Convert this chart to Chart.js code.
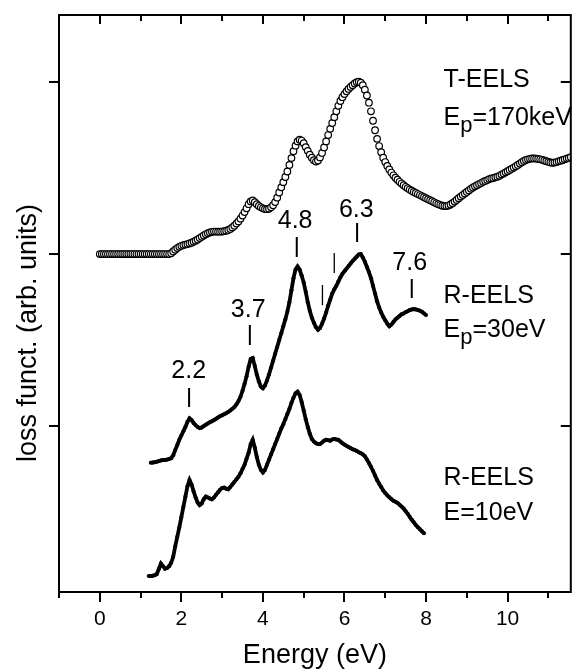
<!DOCTYPE html>
<html>
<head>
<meta charset="utf-8">
<script src="https://cdn.jsdelivr.net/npm/chart.js@4.4.0/dist/chart.umd.min.js"></script>
<style>
  html, body { margin: 0; padding: 0; background: #fff; }
  #wrap { width: 576px; height: 672px; }
</style>
</head>
<body>
<div id="wrap"><canvas id="eelsChart"></canvas></div>
<script>
// T-EELS, Ep = 170 keV, read every 0.05 eV starting at 0 eV
const tEelsStart = 0;
const tEelsStep = 0.05;
const tEels = [
    2.000, 2.000, 2.000, 2.000, 2.000, 2.000, 2.000, 2.000, 2.000, 2.000, 2.000, 2.000, 2.000, 2.000, 2.000, 2.000, 2.000, 2.000, 2.000, 2.000,
    2.000, 2.000, 2.000, 2.000, 2.000, 2.000, 2.000, 2.000, 2.000, 2.000, 2.000, 2.000, 2.000, 2.000, 2.000, 2.005, 2.015, 2.025, 2.035, 2.042,
    2.048, 2.052, 2.055, 2.058, 2.062, 2.066, 2.072, 2.078, 2.085, 2.093, 2.100, 2.108, 2.115, 2.121, 2.126, 2.129, 2.131, 2.131, 2.130, 2.130,
    2.131, 2.133, 2.136, 2.140, 2.146, 2.155, 2.165, 2.177, 2.190, 2.206, 2.224, 2.244, 2.266, 2.290, 2.306, 2.312, 2.302, 2.290, 2.280, 2.272,
    2.266, 2.262, 2.261, 2.264, 2.272, 2.284, 2.302, 2.328, 2.358, 2.388, 2.418, 2.448, 2.480, 2.518, 2.558, 2.598, 2.630, 2.655, 2.665, 2.660,
    2.645, 2.622, 2.600, 2.578, 2.560, 2.546, 2.538, 2.544, 2.562, 2.588, 2.620, 2.655, 2.692, 2.728, 2.762, 2.796, 2.830, 2.862, 2.890, 2.912,
    2.930, 2.946, 2.960, 2.972, 2.982, 2.992, 2.999, 3.002, 2.996, 2.982, 2.956, 2.922, 2.880, 2.830, 2.775, 2.720, 2.670, 2.628, 2.592, 2.560,
    2.535, 2.512, 2.492, 2.474, 2.458, 2.444, 2.432, 2.420, 2.410, 2.400, 2.391, 2.383, 2.375, 2.368, 2.361, 2.355, 2.349, 2.343, 2.337, 2.331,
    2.325, 2.319, 2.313, 2.307, 2.301, 2.295, 2.290, 2.285, 2.281, 2.279, 2.279, 2.282, 2.288, 2.296, 2.305, 2.315, 2.325, 2.334, 2.343, 2.352,
    2.361, 2.370, 2.379, 2.387, 2.394, 2.400, 2.407, 2.413, 2.420, 2.425, 2.430, 2.436, 2.440, 2.442, 2.446, 2.450, 2.455, 2.462, 2.468, 2.475,
    2.482, 2.489, 2.496, 2.503, 2.510, 2.518, 2.526, 2.534, 2.541, 2.547, 2.551, 2.554, 2.556, 2.556, 2.555, 2.553, 2.551, 2.548, 2.544, 2.540,
    2.536, 2.533, 2.531, 2.532, 2.535, 2.539, 2.543, 2.547, 2.551, 2.555, 2.559, 2.563
];

// R-EELS, Ep = 30 eV, every 0.05 eV from 1.25 eV
const rEels30Start = 1.25;
const rEelsStep = 0.05;
const rEels30 = [
    0.787, 0.788, 0.790, 0.793, 0.797, 0.800, 0.802, 0.803, 0.805, 0.808, 0.813, 0.830, 0.860, 0.890, 0.920, 0.945, 0.970, 0.995, 1.025, 1.045,
    1.035, 1.018, 1.005, 0.995, 0.988, 0.992, 1.000, 1.008, 1.015, 1.022, 1.028, 1.035, 1.042, 1.050, 1.057, 1.063, 1.069, 1.075, 1.082, 1.090,
    1.100, 1.110, 1.125, 1.145, 1.170, 1.205, 1.245, 1.290, 1.345, 1.390, 1.395, 1.350, 1.300, 1.260, 1.230, 1.220, 1.235, 1.265, 1.300, 1.340,
    1.380, 1.420, 1.460, 1.500, 1.540, 1.580, 1.620, 1.665, 1.720, 1.790, 1.860, 1.910, 1.928, 1.910, 1.875, 1.835, 1.780, 1.720, 1.670, 1.630,
    1.600, 1.575, 1.560, 1.570, 1.595, 1.625, 1.660, 1.700, 1.735, 1.770, 1.795, 1.815, 1.840, 1.865, 1.885, 1.900, 1.915, 1.930, 1.945, 1.960,
    1.972, 1.985, 1.998, 2.000, 1.980, 1.955, 1.925, 1.895, 1.860, 1.815, 1.770, 1.725, 1.690, 1.660, 1.635, 1.615, 1.595, 1.580, 1.590, 1.605,
    1.620, 1.630, 1.640, 1.650, 1.655, 1.662, 1.668, 1.674, 1.678, 1.680, 1.678, 1.675, 1.670, 1.665, 1.655, 1.645
];

// R-EELS, E = 10 eV, every 0.05 eV from 1.2 eV
const rEels10Start = 1.2;
const rEels10 = [
    0.128, 0.128, 0.130, 0.133, 0.140, 0.170, 0.200, 0.185, 0.170, 0.175, 0.185, 0.205, 0.240, 0.300, 0.356, 0.410, 0.470, 0.530, 0.590, 0.650,
    0.686, 0.660, 0.620, 0.585, 0.555, 0.540, 0.550, 0.575, 0.590, 0.585, 0.578, 0.574, 0.585, 0.600, 0.615, 0.630, 0.640, 0.642, 0.636, 0.632,
    0.645, 0.660, 0.675, 0.690, 0.705, 0.725, 0.750, 0.775, 0.810, 0.845, 0.895, 0.920, 0.875, 0.820, 0.775, 0.745, 0.730, 0.745, 0.775, 0.805,
    0.835, 0.865, 0.895, 0.925, 0.955, 0.985, 1.010, 1.040, 1.070, 1.100, 1.135, 1.165, 1.190, 1.200, 1.180, 1.140, 1.090, 1.040, 0.995, 0.955,
    0.925, 0.910, 0.900, 0.895, 0.895, 0.905, 0.915, 0.920, 0.918, 0.915, 0.922, 0.925, 0.922, 0.920, 0.910, 0.900, 0.892, 0.885, 0.878, 0.872,
    0.865, 0.860, 0.855, 0.848, 0.842, 0.835, 0.825, 0.805, 0.785, 0.763, 0.740, 0.713, 0.686, 0.665, 0.645, 0.625, 0.610, 0.597, 0.586, 0.575,
    0.566, 0.560, 0.553, 0.543, 0.532, 0.520, 0.505, 0.490, 0.472, 0.455, 0.440, 0.425, 0.412, 0.400, 0.388, 0.376
];

const xTickLabels = [0, 2, 4, 6, 8, 10];
const yTickValues = [1, 2, 3];
const peakLabels = ['2.2', '3.7', '4.8', '6.3', '7.6'];

const FONT = "'Liberation Sans', Arial, Helvetica, sans-serif";

function toPoints(start, step, values) {
    return values.map((v, i) => ({ x: +(start + i * step).toFixed(2), y: v }));
}

// where the peak marks and texts sit (data coordinates)
const peakMarks = [
    { e: 2.19, lo: 1.110, hi: 1.221, tx: 2.18, ty: 1.277 },
    { e: 3.68, lo: 1.471, hi: 1.587, tx: 3.64, ty: 1.635 },
    { e: 4.83, lo: 1.983, hi: 2.099, tx: 4.79, ty: 2.149 },
    { e: 6.31, lo: 2.070, hi: 2.180, tx: 6.29, ty: 2.217 },
    { e: 7.65, lo: 1.744, hi: 1.855, tx: 7.60, ty: 1.907 }
];
const thinMarks = [
    { e: 5.75, lo: 1.890, hi: 2.006 },
    { e: 5.46, lo: 1.703, hi: 1.820 }
];

function drawSubText(ctx, x, y, main, sub, rest) {
    ctx.font = '25px ' + FONT;
    ctx.fillText(main, x, y);
    let w = ctx.measureText(main).width;
    ctx.font = '22px ' + FONT;
    ctx.fillText(sub, x + w, y + 7);
    w += ctx.measureText(sub).width;
    ctx.font = '25px ' + FONT;
    ctx.fillText(rest, x + w, y);
}

const framePlugin = {
    id: 'frame',
    afterDatasetsDraw(chart) {
        const { ctx, chartArea: a, scales: { x, y } } = chart;
        ctx.save();
        ctx.strokeStyle = '#000';
        ctx.fillStyle = '#000';
        ctx.lineWidth = 2;
        ctx.strokeRect(a.left, a.top, a.right - a.left, a.bottom - a.top);

        // ticks: outward on bottom/left, inward on top/right
        ctx.beginPath();
        for (let e = -1; e <= 11; e++) {
            const px = Math.round(x.getPixelForValue(e));
            const major = e % 2 === 0;
            ctx.moveTo(px, a.bottom);
            ctx.lineTo(px, a.bottom + (major ? 10 : 6));
            ctx.moveTo(px, a.top);
            ctx.lineTo(px, a.top + (major ? 9 : 6));
        }
        yTickValues.forEach(v => {
            const py = Math.round(y.getPixelForValue(v));
            ctx.moveTo(a.left - 10, py);
            ctx.lineTo(a.left, py);
            ctx.moveTo(a.right, py);
            ctx.lineTo(a.right - 10, py);
        });
        ctx.stroke();

        // peak marks
        ctx.beginPath();
        peakMarks.forEach(m => {
            const px = x.getPixelForValue(m.e);
            ctx.moveTo(px, y.getPixelForValue(m.lo));
            ctx.lineTo(px, y.getPixelForValue(m.hi));
        });
        ctx.stroke();
        ctx.lineWidth = 1.3;
        ctx.beginPath();
        thinMarks.forEach(m => {
            const px = x.getPixelForValue(m.e);
            ctx.moveTo(px, y.getPixelForValue(m.lo));
            ctx.lineTo(px, y.getPixelForValue(m.hi));
        });
        ctx.stroke();

        ctx.font = '25px ' + FONT;
        ctx.textAlign = 'center';
        ctx.textBaseline = 'alphabetic';
        peakMarks.forEach((m, i) => {
            ctx.fillText(peakLabels[i], x.getPixelForValue(m.tx), y.getPixelForValue(m.ty));
        });

        // series names
        ctx.textAlign = 'left';
        const lx = x.getPixelForValue(8.43);
        ctx.fillText('T-EELS', lx, y.getPixelForValue(2.971));
        drawSubText(ctx, lx, y.getPixelForValue(2.750), 'E', 'p', '=170keV');
        ctx.font = '25px ' + FONT;
        ctx.fillText('R-EELS', lx, y.getPixelForValue(1.713));
        drawSubText(ctx, lx, y.getPixelForValue(1.519), 'E', 'p', '=30eV');
        ctx.font = '25px ' + FONT;
        ctx.fillText('R-EELS', lx, y.getPixelForValue(0.657));
        ctx.fillText('E=10eV', lx, y.getPixelForValue(0.453));

        // y axis title
        ctx.translate(36, 333);
        ctx.rotate(-Math.PI / 2);
        ctx.textAlign = 'center';
        ctx.font = '27px ' + FONT;
        ctx.fillText('loss funct. (arb. units)', 0, 0);
        ctx.restore();
    }
};

new Chart(document.getElementById('eelsChart'), {
    type: 'scatter',
    data: {
        datasets: [
            {
                label: 'T-EELS',
                data: toPoints(tEelsStart, tEelsStep, tEels),
                showLine: false,
                pointStyle: 'circle',
                pointRadius: 3.3,
                pointBorderWidth: 1.2,
                pointBorderColor: '#000',
                pointBackgroundColor: '#fff'
            },
            {
                label: 'R-EELS Ep=30eV',
                data: toPoints(rEels30Start, rEelsStep, rEels30),
                showLine: true,
                borderColor: '#000',
                borderWidth: 3.8,
                pointRadius: 2,
                pointBorderWidth: 0,
                pointBackgroundColor: '#000'
            },
            {
                label: 'R-EELS E=10eV',
                data: toPoints(rEels10Start, rEelsStep, rEels10),
                showLine: true,
                borderColor: '#000',
                borderWidth: 3.8,
                pointRadius: 2,
                pointBorderWidth: 0,
                pointBackgroundColor: '#000'
            }
        ]
    },
    options: {
        responsive: true,
        maintainAspectRatio: false,
        animation: false,
        layout: { padding: { top: 15, right: 1, left: 0, bottom: 0 } },
        plugins: {
            legend: { display: false },
            tooltip: { enabled: false }
        },
        scales: {
            x: {
                type: 'linear',
                min: -1,
                max: 11.55,
                afterFit: scale => { scale.height = 80; },
                grid: { display: false, tickLength: 10 },
                border: { display: false },
                ticks: {
                    stepSize: 1,
                    padding: 5,
                    color: '#000',
                    font: { family: FONT, size: 21 },
                    maxRotation: 0,
                    autoSkip: false,
                    callback: v => xTickLabels.includes(v) ? String(v) : ''
                },
                title: {
                    display: true,
                    text: 'Energy (eV)',
                    color: '#000',
                    font: { family: FONT, size: 27, lineHeight: 1.15 },
                    padding: { top: 0, bottom: 1 }
                }
            },
            y: {
                type: 'linear',
                min: 0.035,
                max: 3.39,
                afterFit: scale => { scale.width = 59; },
                grid: { display: false },
                border: { display: false },
                ticks: { display: false }
            }
        }
    },
    plugins: [framePlugin]
});
</script>
</body>
</html>
